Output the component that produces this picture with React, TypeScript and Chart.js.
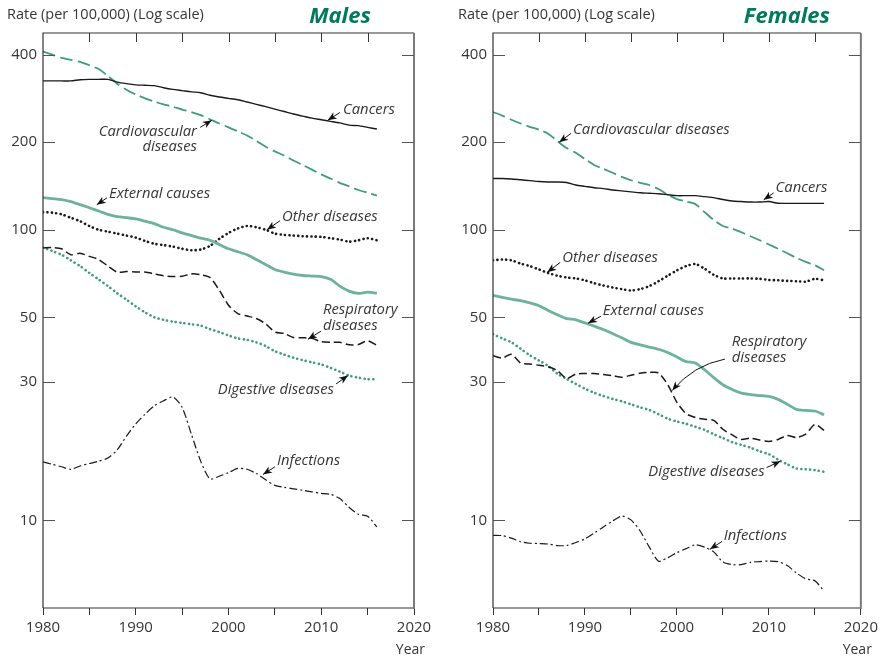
import React, { useEffect, useRef } from 'react';
import { Chart, registerables } from 'chart.js';

Chart.register(...registerables);

// ---------- DATA ----------
const years = [
  1980, 1981, 1982, 1983, 1984, 1985, 1986, 1987, 1988, 1989,
  1990, 1991, 1992, 1993, 1994, 1995, 1996, 1997, 1998, 1999,
  2000, 2001, 2002, 2003, 2004, 2005, 2006, 2007, 2008, 2009,
  2010, 2011, 2012, 2013, 2014, 2015, 2016,
];

const yTickValues = [10, 30, 50, 100, 200, 400];
const xTickValues = [1980, 1985, 1990, 1995, 2000, 2005, 2010, 2015, 2020];
const innerXTicks = [1985, 1990, 1995, 2000, 2005, 2010, 2015];

// Males
const maleCancers = [325, 325, 325, 325, 328, 329, 329, 329, 322, 318, 315, 314, 313, 308, 304, 301, 298, 296, 290, 286, 283, 280, 275, 270, 265, 260, 255, 250, 246, 242, 239, 236, 233, 229, 228, 225, 222];
const maleCardio = [410, 400, 390, 384, 378, 368, 357, 338, 318, 303, 292, 283, 276, 270, 265, 259, 254, 248, 240, 232, 225, 218, 211, 202, 193, 186, 180, 173, 167, 161, 155, 150, 145, 141, 137, 134, 131];
const maleExternal = [129, 128, 127, 125, 122, 119, 116, 113, 111, 110, 109, 107, 105, 102, 100, 97.5, 95.5, 93.5, 92, 89, 86, 84, 82, 79, 76, 73, 71.5, 70.3, 69.6, 69.3, 69, 67.5, 64, 61.5, 60.4, 61, 60.5];
const maleOther = [115, 114.5, 113, 110, 107, 103, 100, 98.5, 97, 95.5, 94, 91.5, 89.5, 88.5, 87.5, 86, 85, 85.5, 88, 93, 97.5, 101, 103, 102, 100, 97, 96, 95.5, 95, 94.8, 94.5, 93.5, 92.5, 91, 92, 93.5, 92];
const maleRespiratory = [86.6, 86.8, 86, 82, 83, 81, 79, 75, 71.5, 71.8, 71.6, 71.5, 70.5, 69.5, 69, 69.2, 70.5, 70, 68.5, 62, 55, 51.5, 50.5, 49.5, 47.5, 44.5, 44, 42.6, 42.5, 42.3, 41.2, 41, 41, 40.2, 40.3, 41.5, 40];
const maleDigestive = [87, 84.5, 82, 78.5, 75, 71, 67.5, 64, 60.5, 57.5, 54.5, 52, 50, 49, 48.3, 47.8, 47.3, 46.8, 45.5, 44.5, 43.3, 42.3, 41.8, 41, 39.8, 38.2, 37.2, 36.3, 35.6, 35, 34.4, 33.5, 32.5, 31.5, 31, 30.6, 30.6];
const maleInfections = [15.9, 15.6, 15.3, 15.0, 15.4, 15.7, 16.0, 16.4, 17.5, 19.5, 21.5, 23.2, 24.8, 25.8, 26.6, 24.5, 19.8, 16.0, 13.9, 14.2, 14.6, 15.1, 15.0, 14.5, 13.8, 13.2, 13.0, 12.85, 12.7, 12.55, 12.4, 12.3, 11.9, 11.1, 10.5, 10.35, 9.5];

// Females
const femaleCancers = [150, 150, 149.5, 148.5, 147.5, 146.5, 146, 146, 145.4, 142.5, 141, 139.5, 138.5, 137, 136, 135, 134, 133.5, 133, 132, 131, 131, 131, 130, 129, 127, 125.5, 125, 124.5, 124.5, 125, 123.3, 123.2, 123.2, 123.2, 123.2, 123.2];
const femaleCardio = [254, 247, 239, 232, 226, 221, 214, 202, 191, 184, 175, 167, 162, 157, 152, 148, 145, 142.5, 138, 132, 127.5, 125, 122.5, 115, 108, 103, 101, 98, 95, 92, 89, 86, 83, 80, 77.5, 75.5, 72.6];
const femaleExternal = [59.5, 58.5, 57.7, 57, 56, 54.8, 52.8, 51, 49.5, 49, 47.8, 46.6, 45.4, 44, 42.5, 41, 40.2, 39.5, 38.8, 37.8, 36.5, 35.2, 34.8, 33, 31, 29.3, 28.2, 27.4, 27.1, 26.9, 26.7, 26.1, 25.1, 24.1, 23.9, 23.8, 23.1];
const femaleOther = [78.5, 79, 78.5, 76.5, 75, 73, 71, 69.5, 68.5, 68, 67, 65.5, 64.3, 63.3, 62.5, 61.8, 62.5, 64, 66.5, 69.5, 72.5, 75, 76.2, 73.5, 70, 68, 68, 68, 68, 67.8, 67.2, 67, 66.7, 66.5, 66.3, 67.8, 67];
const femaleRespiratory = [36.9, 36.2, 37.3, 34.8, 34.5, 34.2, 33.8, 32.8, 30.8, 31.9, 32, 32, 31.8, 31.5, 31.1, 31.6, 32.1, 32.3, 32.2, 29.3, 25.5, 23.3, 22.6, 22.3, 22.1, 20.6, 19.7, 19.0, 19.2, 18.9, 18.7, 19.0, 19.6, 19.3, 19.8, 21.4, 20.4];
const femaleDigestive = [43.7, 42.3, 41, 39, 37, 35.5, 34, 32, 30.7, 29.5, 28.4, 27.5, 26.8, 26.2, 25.7, 25.1, 24.5, 24, 23.2, 22.4, 21.9, 21.5, 21, 20.5, 19.8, 19.2, 18.6, 18.2, 17.8, 17.3, 16.9, 16.2, 15.6, 15.1, 15, 14.9, 14.7];
const femaleInfections = [8.89, 8.87, 8.7, 8.45, 8.35, 8.33, 8.3, 8.2, 8.2, 8.4, 8.65, 9.05, 9.5, 9.95, 10.35, 10.05, 9.2, 8.1, 7.24, 7.45, 7.75, 8.0, 8.25, 8.1, 7.8, 7.2, 7.05, 7.05, 7.18, 7.22, 7.25, 7.22, 7.0, 6.6, 6.3, 6.2, 5.72];

// ---------- STYLE ----------
const FONT = '"Open Sans", "Noto Sans", "DejaVu Sans", sans-serif';
const TEXT = '#363636';
const TITLE_GREEN = '#00795c';
const GREEN_SOLID = '#6db39a';
const GREEN_DASH = '#3f9c7d';
const GREEN_DOT = '#3f9c7d';

type Pt = [number, number];
type Note = {
  lines: { t: string; x: number; y: number }[];
  align: 'left' | 'right';
  from: Pt;
  to: Pt;
  ctrl?: Pt;
};

const maleNotes: Note[] = [
  { lines: [{ t: 'Cancers', x: 2012.35, y: 259 }], align: 'left', from: [2012.0, 253], to: [2010.7, 238] },
  { lines: [{ t: 'Cardiovascular', x: 1996.6, y: 216.5 }, { t: 'diseases', x: 1996.6, y: 192.4 }], align: 'right', from: [1996.95, 225], to: [1998.2, 238] },
  { lines: [{ t: 'External causes', x: 1987.12, y: 132.9 }], align: 'left', from: [1986.9, 128.8], to: [1985.8, 121.9] },
  { lines: [{ t: 'Other diseases', x: 2005.77, y: 110.8 }], align: 'left', from: [2005.55, 107.4], to: [2004.15, 100] },
  { lines: [{ t: 'Respiratory', x: 2010.19, y: 53 }, { t: 'diseases', x: 2010.19, y: 46.7 }], align: 'left', from: [2009.97, 44.8], to: [2008.57, 42.0] },
  { lines: [{ t: 'Digestive diseases', x: 2011.37, y: 28.2 }], align: 'right', from: [2011.6, 29.5], to: [2012.88, 31.5] },
  { lines: [{ t: 'Infections', x: 2005.23, y: 16.0 }], align: 'left', from: [2005.01, 15.3], to: [2003.72, 14.4] },
];

const femaleNotes: Note[] = [
  { lines: [{ t: 'Cardiovascular diseases', x: 1988.71, y: 221.4 }], align: 'left', from: [1988.5, 214.7], to: [1987.2, 200] },
  { lines: [{ t: 'Cancers', x: 2010.73, y: 139.5 }], align: 'left', from: [2010.52, 133.9], to: [2009.44, 126.7] },
  { lines: [{ t: 'Other diseases', x: 1987.53, y: 79.9 }], align: 'left', from: [1987.31, 77.2], to: [1985.9, 71.4] },
  { lines: [{ t: 'External causes', x: 1991.94, y: 52.5 }], align: 'left', from: [1991.73, 50.4], to: [1990.33, 47.7] },
  { lines: [{ t: 'Respiratory', x: 2005.97, y: 41.2 }, { t: 'diseases', x: 2005.97, y: 36.4 }], align: 'left', from: [2005.22, 35.9], to: [1999.5, 28.0], ctrl: [2001.77, 34.2] },
  { lines: [{ t: 'Digestive diseases', x: 2009.53, y: 14.7 }], align: 'right', from: [2009.75, 15.2], to: [2011.26, 16.0] },
  { lines: [{ t: 'Infections', x: 2005.1, y: 8.89 }], align: 'left', from: [2004.9, 8.47], to: [2003.6, 7.96] },
];

type Panel = {
  title: string;
  yWidth: number;
  padRight: number;
  titleLeft: number;
  cancers: number[];
  cardio: number[];
  external: number[];
  other: number[];
  respiratory: number[];
  digestive: number[];
  infections: number[];
  notes: Note[];
};

const malePanel: Panel = {
  title: 'Males', yWidth: 43, padRight: 27, titleLeft: 7,
  cancers: maleCancers, cardio: maleCardio, external: maleExternal, other: maleOther,
  respiratory: maleRespiratory, digestive: maleDigestive, infections: maleInfections, notes: maleNotes,
};
const femalePanel: Panel = {
  title: 'Females', yWidth: 52, padRight: 18, titleLeft: 17,
  cancers: femaleCancers, cardio: femaleCardio, external: femaleExternal, other: femaleOther,
  respiratory: femaleRespiratory, digestive: femaleDigestive, infections: femaleInfections, notes: femaleNotes,
};

function toPoints(vals: number[]) {
  return vals.map((v, i) => ({ x: years[i], y: v }));
}

function ds(label: string, vals: number[], color: string, width: number, dash: number[], cap: CanvasLineCap = 'butt') {
  return {
    label,
    data: toPoints(vals),
    borderColor: color,
    borderWidth: width,
    borderDash: dash,
    borderCapStyle: cap,
    pointRadius: 0,
    tension: 0.25,
    fill: false,
  };
}

function makePlugin(panel: Panel) {
  return {
    id: 'panelDecor',
    afterDatasetsDraw(chart: any) {
      const ctx: CanvasRenderingContext2D = chart.ctx;
      const { left, right, top, bottom } = chart.chartArea;
      const xs = chart.scales.x;
      const ys = chart.scales.y;
      ctx.save();

      // frame
      ctx.lineWidth = 1.2;
      ctx.strokeStyle = '#333';
      ctx.beginPath();
      ctx.moveTo(left, bottom);
      ctx.lineTo(left, top);
      ctx.lineTo(right, top);
      ctx.stroke();
      ctx.beginPath();
      ctx.moveTo(left, bottom);
      ctx.lineTo(right, bottom);
      ctx.stroke();
      ctx.strokeStyle = '#7a7a7a';
      ctx.lineWidth = 2;
      ctx.beginPath();
      ctx.moveTo(right, top);
      ctx.lineTo(right, bottom + 1);
      ctx.stroke();

      // inner y ticks
      ctx.strokeStyle = '#555';
      ctx.lineWidth = 1;
      for (const v of yTickValues) {
        const py = Math.round(ys.getPixelForValue(v)) + 0.5;
        ctx.beginPath();
        ctx.moveTo(left, py);
        ctx.lineTo(left + 12, py);
        ctx.moveTo(right, py);
        ctx.lineTo(right - 12, py);
        ctx.stroke();
      }
      // inner top ticks
      ctx.strokeStyle = '#333';
      for (const v of innerXTicks) {
        const px = Math.round(xs.getPixelForValue(v)) + 0.5;
        ctx.beginPath();
        ctx.moveTo(px, top);
        ctx.lineTo(px, top + 9);
        ctx.stroke();
      }

      // axis titles
      ctx.fillStyle = TEXT;
      ctx.font = `14.5px ${FONT}`;
      ctx.textBaseline = 'middle';
      ctx.textAlign = 'left';
      ctx.fillText('Rate (per 100,000) (Log scale)', panel.titleLeft, 15);
      ctx.font = `14px ${FONT}`;
      ctx.textAlign = 'right';
      ctx.fillText('Year', right + 11, 650);

      // panel title
      ctx.fillStyle = TITLE_GREEN;
      ctx.font = `italic bold 22px ${FONT}`;
      ctx.textAlign = 'center';
      ctx.textBaseline = 'alphabetic';
      ctx.fillText(panel.title, right - 74, 23);

      // annotations
      ctx.font = `italic 14.8px ${FONT}`;
      ctx.textBaseline = 'middle';
      for (const n of panel.notes) {
        ctx.fillStyle = TEXT;
        ctx.textAlign = n.align;
        for (const l of n.lines) {
          ctx.fillText(l.t, xs.getPixelForValue(l.x), ys.getPixelForValue(l.y));
        }
        const fx = xs.getPixelForValue(n.from[0]);
        const fy = ys.getPixelForValue(n.from[1]);
        const tx = xs.getPixelForValue(n.to[0]);
        const ty = ys.getPixelForValue(n.to[1]);
        ctx.strokeStyle = '#111';
        ctx.fillStyle = '#111';
        ctx.lineWidth = 1;
        let dirx: number, diry: number;
        ctx.beginPath();
        ctx.moveTo(fx, fy);
        if (n.ctrl) {
          const cx = xs.getPixelForValue(n.ctrl[0]);
          const cy = ys.getPixelForValue(n.ctrl[1]);
          ctx.quadraticCurveTo(cx, cy, tx, ty);
          dirx = tx - cx; diry = ty - cy;
        } else {
          ctx.lineTo(tx, ty);
          dirx = tx - fx; diry = ty - fy;
        }
        ctx.stroke();
        const len = Math.hypot(dirx, diry) || 1;
        const ux = dirx / len, uy = diry / len;
        const hl = 9, hw = 3.6;
        const bx = tx - ux * hl, by = ty - uy * hl;
        ctx.beginPath();
        ctx.moveTo(tx, ty);
        ctx.lineTo(bx - uy * hw, by + ux * hw);
        ctx.lineTo(bx + ux * 2.5, by + uy * 2.5);
        ctx.lineTo(bx + uy * hw, by - ux * hw);
        ctx.closePath();
        ctx.fill();
      }
      ctx.restore();
    },
  };
}

function makeConfig(panel: Panel): any {
  return {
    type: 'line',
    data: {
      datasets: [
        ds('Cancers', panel.cancers, '#1a1a1a', 1.4, []),
        ds('Cardiovascular diseases', panel.cardio, GREEN_DASH, 1.8, [13, 5]),
        ds('External causes', panel.external, GREEN_SOLID, 2.8, []),
        ds('Other diseases', panel.other, '#1a1a1a', 2.6, [0.1, 4.3], 'round'),
        ds('Respiratory diseases', panel.respiratory, '#1a1a1a', 1.5, [8, 4]),
        ds('Digestive diseases', panel.digestive, GREEN_DOT, 2.6, [0.1, 4.3], 'round'),
        ds('Infections', panel.infections, '#1a1a1a', 1.2, [8, 3, 2, 3]),
      ],
    },
    options: {
      responsive: false,
      animation: false,
      layout: { padding: { left: 0, right: panel.padRight, top: 33, bottom: 0 } },
      plugins: { legend: { display: false }, tooltip: { enabled: false }, title: { display: false } },
      scales: {
        x: {
          type: 'linear',
          min: 1980,
          max: 2020,
          afterBuildTicks: (sc: any) => { sc.ticks = xTickValues.map((v) => ({ value: v })); },
          ticks: {
            callback: (v: any) => (Number(v) % 10 === 0 ? String(v) : ''),
            font: { family: FONT, size: 15 },
            color: TEXT,
            padding: 4,
            maxRotation: 0,
            autoSkip: false,
          },
          grid: { drawOnChartArea: false, drawTicks: true, tickLength: 7, color: '#333', lineWidth: 1 },
          border: { display: false },
          afterFit: (sc: any) => { sc.height = 52; },
        },
        y: {
          type: 'logarithmic',
          min: 5,
          max: 475,
          afterBuildTicks: (sc: any) => { sc.ticks = yTickValues.map((v) => ({ value: v })); },
          ticks: {
            callback: (v: any) => String(v),
            font: { family: FONT, size: 15 },
            color: TEXT,
            padding: 6,
            autoSkip: false,
          },
          grid: { display: false, drawTicks: false },
          border: { display: false },
          afterFit: (sc: any) => { sc.width = panel.yWidth; },
        },
      },
    },
    plugins: [makePlugin(panel)],
  };
}

function PanelChart({ panel }: { panel: Panel }) {
  const ref = useRef<HTMLCanvasElement | null>(null);
  useEffect(() => {
    if (!ref.current) return;
    const chart = new Chart(ref.current, makeConfig(panel));
    return () => chart.destroy();
  }, [panel]);
  return <canvas ref={ref} width={441} height={660} style={{ display: 'block', width: 441, height: 660 }} />;
}

export default function App() {
  return (
    <div style={{ position: 'fixed', left: 0, top: 0, width: 882, height: 660, display: 'flex', background: '#fff' }}>
      <PanelChart panel={malePanel} />
      <PanelChart panel={femalePanel} />
    </div>
  );
}
